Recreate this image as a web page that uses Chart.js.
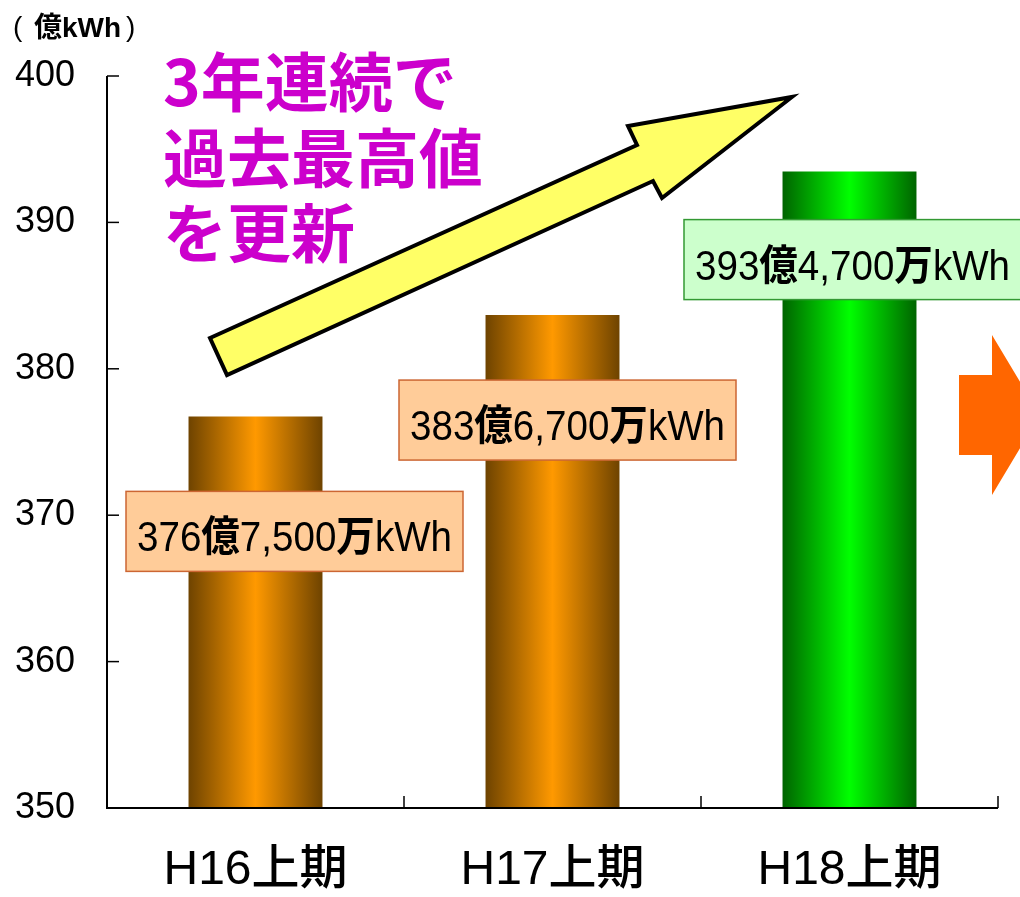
<!DOCTYPE html>
<html>
<head>
<meta charset="utf-8">
<script src="https://cdn.jsdelivr.net/npm/chart.js@4.4.1/dist/chart.umd.min.js"></script>
<style>
  html, body { margin: 0; padding: 0; background: #fff; }
  canvas { display: block; }
</style>
</head>
<body>
<canvas id="chart" width="1020" height="897"></canvas>
<script>
// --- data ---
const categories = ['H16上期', 'H17上期', 'H18上期'];
const values = [376.75, 383.67, 393.47]; // 億kWh
const valueLabels = ['376億7,500万kWh', '383億6,700万kWh', '393億4,700万kWh'];
const yMin = 350, yMax = 400, yStep = 10;
const unitParts = ['(', '億kWh', ')'];
const headline = ['3年連続で', '過去最高値', 'を更新'];

// --- styles / layout ---
const barStyles = [
  { edge: '#6e4300', mid: '#ff9900', box: '#ffcc99', boxLine: '#cc6633' },
  { edge: '#6e4300', mid: '#ff9900', box: '#ffcc99', boxLine: '#cc6633' },
  { edge: '#006400', mid: '#00ff00', box: '#ccffcc', boxLine: '#339933' }
];
const labelBoxOffsets = [ // box centre relative to bar centre / bar top, px
  { dx: 39, dy: 115 },
  { dx: 15, dy: 105 },
  { dx: 3, dy: 88 }
];
const boxW = 337, boxH = 80;
const barPct = 0.451;
const latin = '"Liberation Sans", Arial, sans-serif';
const cjk = '"Noto Sans CJK JP", sans-serif';

function isCJK(ch) { return /[\u3000-\u9fff\uff00-\uffef]/.test(ch); }

// draw text with latin runs in one font and kanji runs in another, squeezed to maxW
function drawMixed(ctx, text, x, y, size, opts) {
  const runs = [];
  for (const ch of text) {
    const c = isCJK(ch);
    if (runs.length && runs[runs.length - 1].c === c) runs[runs.length - 1].t += ch;
    else runs.push({ c: c, t: ch });
  }
  const fontFor = (r) => r.c ? `bold ${size}px ${cjk}` : `${opts.latinWeight || 'normal'} ${size}px ${latin}`;
  let total = 0;
  runs.forEach(r => { ctx.font = fontFor(r); r.w = ctx.measureText(r.t).width; total += r.w; });
  const s = opts.maxW ? Math.min(1, opts.maxW / total) : 1;
  ctx.save();
  ctx.translate(x, y);
  ctx.scale(s, 1);
  ctx.textBaseline = 'alphabetic';
  ctx.textAlign = 'left';
  ctx.fillStyle = opts.color || '#000';
  let cx = opts.align === 'center' ? -total / 2 : 0;
  runs.forEach(r => { ctx.font = fontFor(r); ctx.fillText(r.t, cx, 0); cx += r.w; });
  ctx.restore();
}

function barFill(context) {
  const chart = context.chart;
  const i = context.dataIndex;
  const st = barStyles[i] || barStyles[0];
  const xs = chart.scales.x;
  if (!chart.chartArea || !xs || xs.width === undefined) return st.mid;
  const cx = xs.getPixelForValue(i);
  const half = xs.width / categories.length * barPct / 2;
  const g = chart.ctx.createLinearGradient(cx - half, 0, cx + half, 0);
  g.addColorStop(0, st.edge);
  g.addColorStop(0.5, st.mid);
  g.addColorStop(1, st.edge);
  return g;
}

const decor = {
  id: 'decor',
  afterDatasetsDraw(chart) {
    const ctx = chart.ctx;
    const xs = chart.scales.x, ys = chart.scales.y;
    const a = chart.chartArea;
    ctx.save();

    // axes with inward ticks
    ctx.strokeStyle = '#000';
    ctx.lineWidth = 2;
    ctx.beginPath();
    ctx.moveTo(a.left, a.top);
    ctx.lineTo(a.left, a.bottom);
    ctx.lineTo(a.right, a.bottom);
    ctx.stroke();
    ctx.lineWidth = 1.5;
    ys.ticks.forEach(t => {
      const y = ys.getPixelForValue(t.value);
      ctx.beginPath();
      ctx.moveTo(a.left, y);
      ctx.lineTo(a.left + 12, y);
      ctx.stroke();
    });
    const step = (a.right - a.left) / categories.length;
    for (let i = 1; i <= categories.length; i++) {
      const x = a.left + i * step;
      ctx.beginPath();
      ctx.moveTo(x, a.bottom);
      ctx.lineTo(x, a.bottom - 12);
      ctx.stroke();
    }

    // yellow rising arrow
    ctx.beginPath();
    [[210, 338], [637, 145], [628, 126], [792, 97], [662, 198], [653, 181], [227, 375]]
      .forEach((p, k) => k ? ctx.lineTo(p[0], p[1]) : ctx.moveTo(p[0], p[1]));
    ctx.closePath();
    ctx.fillStyle = '#ffff66';
    ctx.fill();
    ctx.lineWidth = 4;
    ctx.lineJoin = 'miter';
    ctx.strokeStyle = '#000';
    ctx.stroke();

    // orange arrow at right edge
    ctx.beginPath();
    [[959, 375], [992, 375], [992, 335], [1040, 415], [992, 495], [992, 455], [959, 455]]
      .forEach((p, k) => k ? ctx.lineTo(p[0], p[1]) : ctx.moveTo(p[0], p[1]));
    ctx.closePath();
    ctx.fillStyle = '#ff6600';
    ctx.fill();

    // value label boxes
    const meta = chart.getDatasetMeta(0);
    meta.data.forEach((bar, i) => {
      const st = barStyles[i];
      const off = labelBoxOffsets[i];
      const cx = bar.x + off.dx;
      const cy = bar.y + off.dy;
      ctx.fillStyle = st.box;
      ctx.fillRect(cx - boxW / 2, cy - boxH / 2, boxW, boxH);
      ctx.lineWidth = 1.5;
      ctx.strokeStyle = st.boxLine;
      ctx.strokeRect(cx - boxW / 2, cy - boxH / 2, boxW, boxH);
      drawMixed(ctx, valueLabels[i], cx, cy + 20, 42, { align: 'center', maxW: 315 });
    });

    // headline
    ctx.fillStyle = '#cc00cc';
    ctx.font = `bold 64px ${cjk}`;
    ctx.textBaseline = 'middle';
    ctx.textAlign = 'left';
    headline.forEach((line, k) => ctx.fillText(line, 163, 82 + k * 75.5));

    // unit
    ctx.fillStyle = '#000';
    ctx.textBaseline = 'alphabetic';
    ctx.font = `28px ${latin}`;
    ctx.fillText(unitParts[0], 13, 36);
    ctx.fillText(unitParts[2], 126, 36);
    drawMixed(ctx, unitParts[1], 34, 37, 28, { latinWeight: 'bold', maxW: 87 });

    ctx.restore();
  }
};

new Chart(document.getElementById('chart'), {
  type: 'bar',
  data: {
    labels: categories,
    datasets: [{
      data: values,
      backgroundColor: barFill,
      borderWidth: 0,
      barPercentage: barPct,
      categoryPercentage: 1
    }]
  },
  options: {
    responsive: false,
    animation: false,
    layout: { padding: { top: 76, right: 22, left: 15, bottom: 0 } },
    plugins: { legend: { display: false }, tooltip: { enabled: false } },
    scales: {
      x: {
        grid: { display: false, drawTicks: false },
        border: { display: false },
        ticks: {
          color: '#000',
          padding: 34,
          font: { size: 48, weight: '500', family: '"Liberation Sans", "Noto Sans CJK JP", sans-serif' }
        },
        afterFit(s) { s.height = 89; }
      },
      y: {
        min: yMin,
        max: yMax,
        grid: { display: false, drawTicks: false },
        border: { display: false },
        ticks: {
          stepSize: yStep,
          color: '#000',
          crossAlign: 'far',
          font: { size: 36, family: '"Liberation Sans", sans-serif' }
        },
        afterFit(s) { s.width = 92; }
      }
    }
  },
  plugins: [decor]
});
</script>
</body>
</html>
